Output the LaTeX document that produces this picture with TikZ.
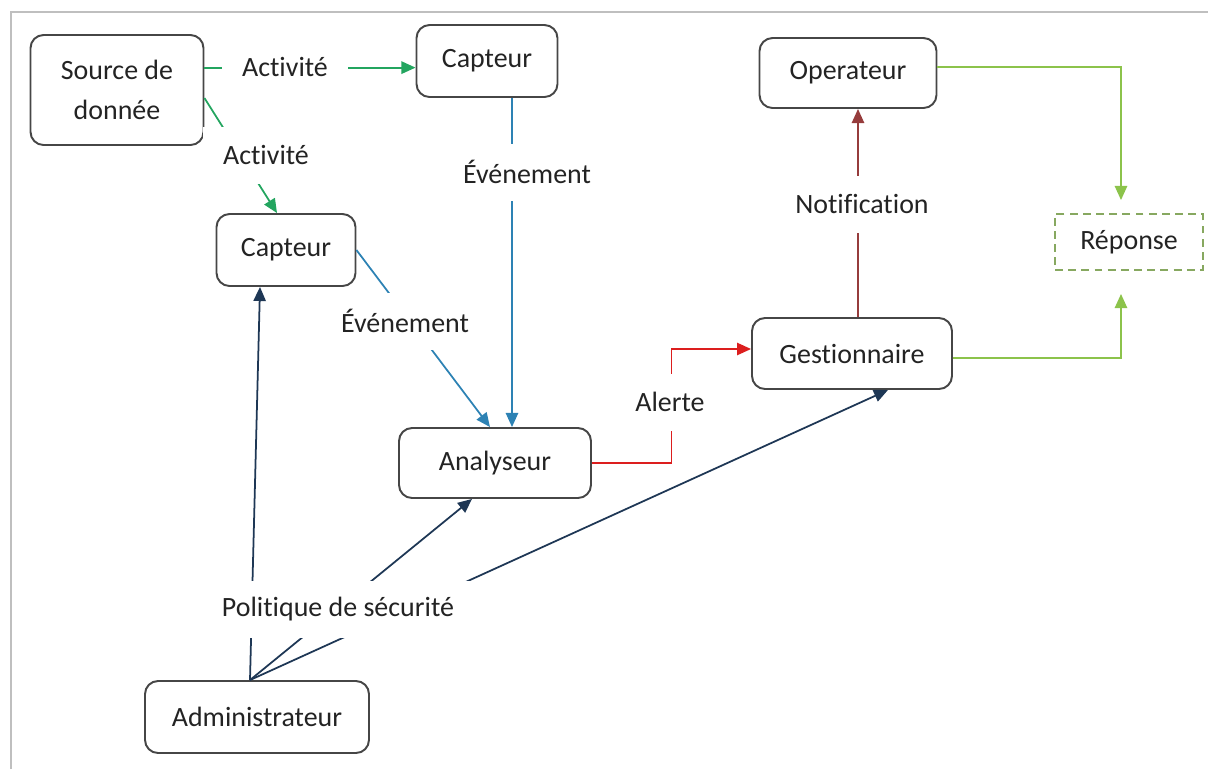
\documentclass[tikz,border=0pt]{standalone}
\usepackage{fontspec}
\setmainfont{Carlito}[Ligatures=NoCommon]
\usetikzlibrary{arrows.meta,calc}
\definecolor{actgreen}{RGB}{35,165,95}
\definecolor{evtblue}{RGB}{45,130,180}
\definecolor{alertred}{RGB}{220,30,30}
\definecolor{notifbrown}{RGB}{150,60,60}
\definecolor{repgreen}{RGB}{140,195,75}
\definecolor{polnavy}{RGB}{30,55,85}
\definecolor{boxgray}{RGB}{70,70,70}
\definecolor{txtgray}{RGB}{35,35,35}
\begin{document}
\begin{tikzpicture}[x=0.02cm, y=-0.02cm,
    every node/.style={font=\fontsize{15.9pt}{23pt}\selectfont, text=txtgray},
    box/.style={draw=boxgray, line width=1.1pt, rounded corners=0.26cm, minimum height=1.42cm, align=center},
    lbl/.style={fill=white, minimum height=1.14cm, inner xsep=0.4cm},
    flow/.style={line width=1pt, -{Triangle[length=8pt, width=7pt]}}]
    \useasboundingbox (0,0) rectangle (1208,769);
    \draw[black!25, line width=1.2pt] (11,769) -- (11,12) -- (1208,12);
    \node[box, minimum width=3.46cm, minimum height=2.2cm] (src) at (117,90) {Source de\\donnée};
    \node[box, minimum width=2.82cm, minimum height=1.44cm] (cap1) at (487,61) {Capteur};
    \node[box, minimum width=3.54cm, minimum height=1.4cm] (op) at (848,73) {Operateur};
    \node[draw=repgreen!60!gray, line width=1.1pt, dash pattern=on 4.5pt off 3pt, minimum width=2.96cm, minimum height=1.12cm] (rep) at (1129,242) {Réponse};
    \node[box, minimum width=2.78cm, minimum height=1.44cm] (cap2) at (286,250) {Capteur};
    \node[box, minimum width=4cm] (gest) at (852,353.5) {Gestionnaire};
    \node[box, minimum width=3.84cm, minimum height=1.4cm] (ana) at (495,463) {Analyseur};
    \node[box, minimum width=4.48cm, minimum height=1.44cm] (adm) at (257,717) {Administrateur};
    \coordinate (act) at ($(src.north east)!.3!(src.south east)$);
    \coordinate (admtop) at ([xshift=-0.14cm]adm.north);
    \draw[flow, actgreen] (act) -- (act -| cap1.west);
    \draw[flow, actgreen] ([yshift=-0.16cm]src.east) -- ([xshift=-0.18cm]cap2.north);
    \draw[flow, evtblue] ([xshift=0.5cm]cap1.south) -- ([xshift=0.5cm]cap1.south |- ana.north);
    \draw[flow, evtblue] (cap2.east) -- ([xshift=-0.1cm]ana.north);
    \draw[flow, alertred] (ana.east) -| ($(ana.east)!.5!(gest.west)$) |- ([yshift=0.09cm]gest.west);
    \draw[flow, notifbrown] ([xshift=0.12cm]gest.north) -- ([xshift=0.12cm]gest.north |- op.south);
    \draw[flow, repgreen, shorten >=0.26cm] ([yshift=0.12cm]op.east) -| ([xshift=-0.16cm]rep.north);
    \draw[flow, repgreen, shorten >=0.46cm] ([yshift=-0.09cm]gest.east) -| ([xshift=-0.16cm]rep.south);
    \draw[flow, polnavy] (admtop) -- ([xshift=-0.52cm]cap2.south);
    \draw[flow, polnavy] (admtop) -- ([xshift=-0.46cm]ana.south);
    \draw[flow, polnavy] (admtop) -- ([xshift=0.72cm]gest.south);
    \node[lbl] (lact1) at (285,67) {Activité};
    \node[lbl] (lact2) at (266,155) {Activité};
    \node[lbl] (levt1) at (527,172) {Événement};
    \node[lbl] (levt2) at (405,321) {Événement};
    \node[lbl] (lalert) at (670,402) {Alerte};
    \node[lbl] (lnotif) at (862,204) {Notification};
    \node[lbl] (lpol) at (338,609) {Politique de sécurité};
\end{tikzpicture}
\end{document}
